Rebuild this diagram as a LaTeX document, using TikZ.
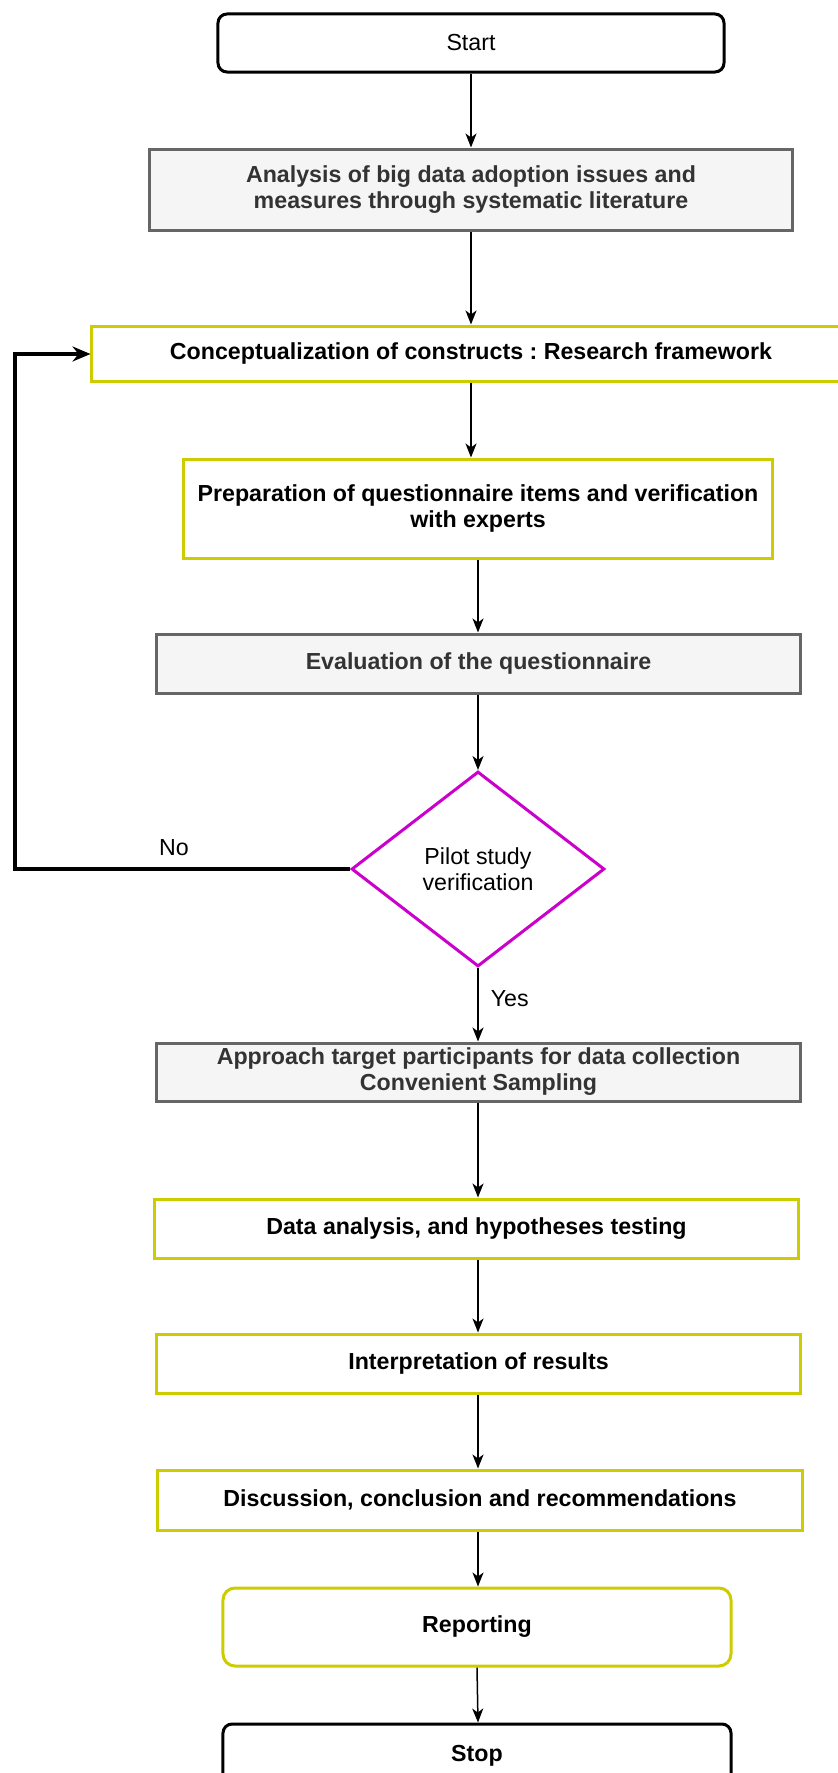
\documentclass[tikz,border=0pt]{standalone}
\usepackage{fontspec}
\setmainfont{Liberation Sans}
\usetikzlibrary{shapes.geometric,arrows.meta}
\definecolor{ylw}{HTML}{CCCC00}
\definecolor{gstroke}{HTML}{666666}
\definecolor{gfill}{HTML}{F5F5F5}
\definecolor{gtext}{HTML}{333333}
\definecolor{mag}{HTML}{CC00CC}
\newcommand{\fsz}{\fontsize{23.2bp}{26bp}\selectfont}
\frenchspacing
\begin{document}
\begin{tikzpicture}[x=1bp,y=-1bp,
  base/.style={align=center, inner sep=0pt, font=\fsz},
  ybox/.style={base, draw=ylw, line width=3bp, fill=white, font=\fsz\bfseries},
  gbox/.style={base, draw=gstroke, line width=3bp, fill=gfill, text=gtext, font=\fsz\bfseries},
  term/.style={base, draw=black, line width=3bp, rounded corners=9bp, fill=white},
  yterm/.style={base, draw=ylw, line width=3bp, rounded corners=12bp, fill=white, font=\fsz\bfseries},
  decision/.style={base, diamond, draw=mag, line width=3bp, fill=white},
  arr/.style={-{Stealth[length=14bp,width=11bp,inset=4bp]}, line width=1.5bp},
  loop/.style={-{Stealth[length=18bp,width=15bp,inset=6bp]}, line width=3.5bp},
  lbl/.style={font=\fsz, inner sep=0pt}]
\useasboundingbox (0,0) rectangle (838,1773);
\clip (0,0) rectangle (838,1773);

\node[term, minimum width=506bp, minimum height=58bp] (start) at (471,43) {Start};
\node[gbox, minimum width=642bp, minimum height=81bp] (ana) at (471,189.5)
  {Analysis of big data adoption issues and\\measures through systematic literature};
\node[ybox, minimum width=770bp, minimum height=55bp] (conc) at (477,353.5)
  {\hspace*{-12bp}Conceptualization of constructs : Research framework};
\node[ybox, minimum width=588bp, minimum height=99bp] (prep) at (478,508.5)
  {Preparation of questionnaire items and verification\\with experts};
\node[gbox, minimum width=643bp, minimum height=59bp] (eval) at (478.5,663.5)
  {Evaluation of the questionnaire};
\node[decision, minimum width=253bp, minimum height=195bp] (dec) at (478,869)
  {Pilot study\\verification};
\node[gbox, minimum width=643bp, minimum height=58bp] (appr) at (478.5,1072)
  {Approach target participants for data collection\\Convenient Sampling};
\node[ybox, minimum width=643bp, minimum height=59bp] (data) at (476.5,1228.5)
  {Data analysis, and hypotheses testing};
\node[ybox, minimum width=643bp, minimum height=59bp] (interp) at (478.5,1363.5)
  {Interpretation of results};
\node[ybox, minimum width=644bp, minimum height=60bp] (disc) at (480,1500)
  {Discussion, conclusion and recommendations};
\node[yterm, minimum width=508bp, minimum height=78bp] (rep) at (477,1627) {Reporting};
\node[term, minimum width=508bp, minimum height=64bp, font=\fsz\bfseries] (stop) at (477,1756) {Stop};

\coordinate (c1) at (15,869);
\coordinate (c2) at (15,354);

\draw[arr] (start.south) -- (start.south |- ana.north);
\draw[arr] (ana.south) -- (ana.south |- conc.north);
\draw[arr] (ana.south |- conc.south) -- (ana.south |- prep.north);
\draw[arr] (prep.south) -- (prep.south |- eval.north);
\draw[arr] (eval.south -| dec.north) -- (dec.north);
\draw[arr] (dec.south) -- (dec.south |- appr.north) node[lbl, pos=0.42, right=12bp] {Yes};
\draw[loop] (dec.west) -- (c1) -- (c2) -- (c2 -| conc.west);
\node[lbl] (no) at (174,848) {No};
\draw[arr] (dec.south |- appr.south) -- (dec.south |- data.north);
\draw[arr] (dec.south |- data.south) -- (dec.south |- interp.north);
\draw[arr] (dec.south |- interp.south) -- (dec.south |- disc.north);
\draw[arr] (dec.south |- disc.south) -- (dec.south |- rep.north);
\draw[arr] (rep.south) -- (dec.south |- stop.north);
\end{tikzpicture}
\end{document}
